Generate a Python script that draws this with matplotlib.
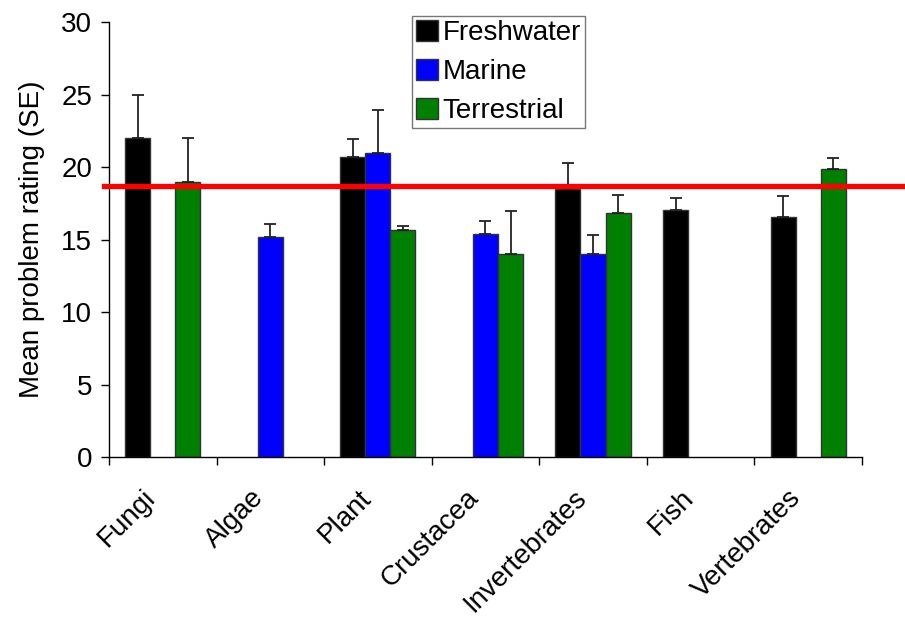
import matplotlib
matplotlib.use("Agg")
import matplotlib.pyplot as plt
import matplotlib.transforms as mtransforms
import numpy as np
from matplotlib.patches import Patch

plt.rcParams['font.family'] = ['Liberation Sans', 'DejaVu Sans']

categories = ["Fungi", "Algae", "Plant", "Crustacea", "Invertebrates", "Fish", "Vertebrates"]
series = ["Freshwater", "Marine", "Terrestrial"]
colors = ["#000000", "#0000FF", "#008000"]
freshwater = [22.0, np.nan, 20.7, np.nan, 18.5, 17.05, 16.55]
freshwater_err = [3.0, np.nan, 1.2, np.nan, 1.75, 0.8, 1.45]
marine = [np.nan, 15.2, 21.0, 15.35, 14.0, np.nan, np.nan]
marine_err = [np.nan, 0.9, 2.95, 0.9, 1.3, np.nan, np.nan]
terrestrial = [19.0, np.nan, 15.65, 14.0, 16.85, np.nan, 19.85]
terrestrial_err = [3.0, np.nan, 0.3, 3.0, 1.2, np.nan, 0.8]
mean_line = 18.67

values = [freshwater, marine, terrestrial]
errors = [freshwater_err, marine_err, terrestrial_err]

fig = plt.figure(figsize=(9.05, 6.2), dpi=100)
ax = fig.add_axes([0.1204, 0.2629, 0.8320, 0.7016])

x = np.arange(len(categories))
w = 0.233
for i, (vals, errs, c) in enumerate(zip(values, errors, colors)):
    xs = x + (i - 1) * w
    ax.bar(xs, vals, width=w, color=c, edgecolor="#333333", linewidth=1.0, zorder=2)
    ax.errorbar(xs, vals, yerr=[np.zeros(len(errs)), errs], fmt="none",
                ecolor="#222222", elinewidth=1.3, capsize=4, capthick=1.3, zorder=3)

ax.axhline(mean_line, xmin=-0.006, xmax=1.06, color="#FF0000", linewidth=3.8,
           clip_on=False, zorder=4)

ax.set_xlim(-0.5, len(categories) - 0.5)
ax.set_ylim(0, 30)
ax.set_yticks(np.arange(0, 31, 5))
ax.tick_params(axis="y", labelsize=20, length=6, width=1, direction="out", pad=6)
ax.set_xticks(np.arange(-0.5, len(categories), 1.0))
ax.set_xticklabels([])
ax.tick_params(axis="x", length=6, width=1, direction="out")
ax.set_xticks(x, minor=True)
ax.set_xticklabels(categories, minor=True, rotation=45, ha="right", va="top",
                   rotation_mode="anchor", fontsize=20)
ax.tick_params(axis="x", which="minor", length=0, pad=20)
offset = mtransforms.ScaledTranslation(-0.2, 0, fig.dpi_scale_trans)
for lab in ax.get_xticklabels(minor=True):
    lab.set_transform(lab.get_transform() + offset)

for s in ["top", "right"]:
    ax.spines[s].set_visible(False)
for s in ["left", "bottom"]:
    ax.spines[s].set_linewidth(1.0)

ax.set_ylabel("Mean problem rating (SE)", fontsize=20, labelpad=12)

handles = [Patch(facecolor=c, edgecolor="#333333", label=s) for s, c in zip(series, colors)]
leg = ax.legend(handles=handles, loc="upper left", bbox_to_anchor=(0.4026, 1.014),
                fontsize=20, frameon=True, fancybox=False, edgecolor="#555555",
                handlelength=0.8, handleheight=0.8, handletextpad=0.15,
                borderpad=0.15, labelspacing=0.45, borderaxespad=0)
leg.get_frame().set_linewidth(1.0)

fig.savefig("out.png", dpi=100)
